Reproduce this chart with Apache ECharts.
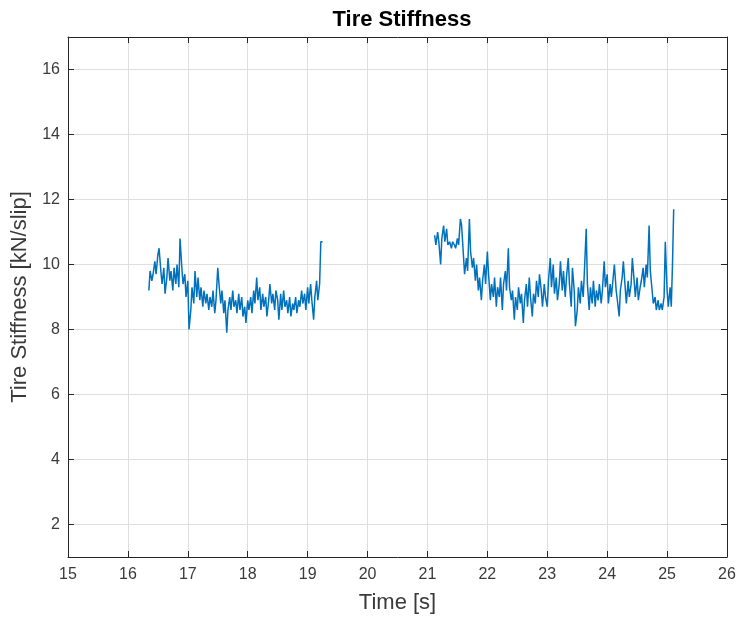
<!DOCTYPE html>
<html>
<head>
<meta charset="utf-8">
<script src="https://cdn.jsdelivr.net/npm/echarts@6/dist/echarts.min.js"></script>
<style>html,body{margin:0;padding:0;background:#fff;}#c{width:741px;height:623px;}</style>
</head>
<body>
<div id="c"></div>
<script>
const titleText = 'Tire Stiffness';
const xName = 'Time [s]';
const yName = 'Tire Stiffness [kN/slip]';
const xTicks = [15,16,17,18,19,20,21,22,23,24,25,26];
const yTicks = [2,4,6,8,10,12,14,16];

const segment1 = [
[16.35,9.2],[16.37,9.8],[16.40,9.5],[16.42,9.7],[16.45,10.1],[16.47,9.7],[16.50,10.3],[16.52,10.5],
[16.55,9.8],[16.57,9.4],[16.60,9.9],[16.62,9.1],[16.65,9.6],[16.67,10.2],[16.70,9.5],[16.72,9.8],
[16.75,9.2],[16.77,9.9],[16.80,9.4],[16.82,10.0],[16.85,9.3],[16.87,10.8],[16.90,9.9],[16.92,9.4],
[16.95,9.7],[16.97,9.0],[17.00,9.5],[17.02,8.0],[17.05,8.6],[17.07,9.3],[17.10,8.8],[17.12,9.8],
[17.15,9.0],[17.17,9.6],[17.20,8.9],[17.22,9.3],[17.25,8.7],[17.27,9.2],[17.30,8.8],[17.32,9.1],
[17.35,8.6],[17.37,9.0],[17.40,8.7],[17.42,9.2],[17.45,8.5],[17.47,8.9],[17.50,9.9],[17.52,9.4],
[17.55,8.8],[17.57,9.2],[17.60,8.5],[17.62,8.9],[17.65,7.9],[17.67,8.6],[17.70,9.0],[17.72,8.6],
[17.75,9.2],[17.77,8.7],[17.80,8.9],[17.82,8.5],[17.85,9.1],[17.87,8.6],[17.90,9.0],[17.92,8.4],
[17.95,8.7],[17.97,8.2],[18.00,8.9],[18.02,8.6],[18.05,9.0],[18.07,8.5],[18.10,9.2],[18.12,8.8],
[18.15,9.6],[18.17,8.9],[18.20,9.3],[18.22,8.6],[18.25,9.1],[18.27,8.7],[18.30,9.0],[18.32,8.4],
[18.35,8.9],[18.37,9.4],[18.40,8.8],[18.42,9.1],[18.45,8.6],[18.47,9.2],[18.50,8.9],[18.52,8.3],
[18.55,9.1],[18.57,8.6],[18.60,9.2],[18.62,8.7],[18.65,8.9],[18.67,8.5],[18.70,9.0],[18.72,8.4],
[18.75,8.8],[18.77,8.6],[18.80,9.0],[18.82,8.5],[18.85,8.9],[18.87,8.7],[18.90,9.2],[18.92,8.8],
[18.95,9.1],[18.97,8.6],[19.00,9.3],[19.02,8.8],[19.05,9.4],[19.07,8.9],[19.10,8.3],[19.12,9.0],
[19.15,9.5],[19.17,8.9],[19.20,9.4],[19.22,10.7],[19.25,10.7]
];

const segment2 = [
[21.12,10.9],[21.14,10.6],[21.17,11.0],[21.19,10.7],[21.22,10.0],[21.24,10.8],[21.27,11.2],[21.29,10.7],
[21.32,11.1],[21.34,10.6],[21.37,10.7],[21.40,10.5],[21.42,10.7],[21.45,10.6],[21.47,10.5],[21.50,10.8],
[21.52,10.6],[21.55,11.4],[21.57,11.2],[21.60,10.3],[21.62,9.7],[21.65,10.2],[21.67,9.8],[21.70,11.4],
[21.72,10.4],[21.75,9.9],[21.77,10.2],[21.80,9.5],[21.82,10.0],[21.85,9.2],[21.87,9.6],[21.90,8.9],
[21.92,9.5],[21.95,10.0],[21.97,9.4],[22.00,10.4],[22.02,9.7],[22.05,8.9],[22.07,9.4],[22.10,9.0],
[22.12,9.6],[22.15,8.7],[22.17,9.3],[22.20,9.0],[22.22,9.6],[22.25,8.6],[22.27,9.4],[22.30,9.8],
[22.32,9.2],[22.35,10.5],[22.37,9.3],[22.40,8.9],[22.42,9.2],[22.45,8.3],[22.47,9.0],[22.50,8.6],
[22.52,9.3],[22.55,8.8],[22.57,9.1],[22.60,8.2],[22.62,8.9],[22.65,9.4],[22.67,8.7],[22.70,9.6],
[22.72,9.0],[22.75,8.4],[22.77,9.1],[22.80,8.8],[22.82,9.5],[22.85,9.0],[22.87,9.7],[22.90,9.2],
[22.92,8.7],[22.95,9.4],[22.97,9.0],[23.00,8.7],[23.02,9.5],[23.05,10.2],[23.07,9.3],[23.10,10.0],
[23.12,9.1],[23.15,9.6],[23.17,8.9],[23.20,9.4],[23.22,10.1],[23.25,9.2],[23.27,9.8],[23.30,9.0],
[23.32,9.6],[23.35,10.2],[23.37,9.4],[23.40,8.7],[23.42,9.9],[23.45,9.2],[23.47,8.1],[23.50,8.6],
[23.52,9.3],[23.55,8.8],[23.57,9.5],[23.60,9.0],[23.62,9.8],[23.65,11.1],[23.67,9.4],[23.70,8.6],
[23.72,9.3],[23.75,8.8],[23.77,9.5],[23.80,8.7],[23.82,9.2],[23.85,8.9],[23.87,9.4],[23.90,8.8],
[23.92,9.2],[23.95,10.1],[23.97,9.3],[24.00,9.7],[24.02,8.8],[24.05,9.4],[24.07,9.0],[24.10,9.6],
[24.12,10.0],[24.15,9.2],[24.17,8.9],[24.20,8.4],[24.22,9.2],[24.25,9.6],[24.27,10.1],[24.30,9.3],
[24.32,8.8],[24.35,9.5],[24.37,9.0],[24.40,9.4],[24.42,10.2],[24.45,9.5],[24.47,9.0],[24.50,9.6],
[24.52,8.9],[24.55,9.3],[24.57,9.5],[24.60,9.9],[24.62,9.3],[24.65,10.0],[24.67,9.6],[24.70,11.2],
[24.72,9.8],[24.75,9.2],[24.77,8.8],[24.80,9.0],[24.82,8.6],[24.85,8.9],[24.87,8.6],[24.90,8.8],
[24.92,8.6],[24.95,9.0],[24.97,10.7],[25.00,9.2],[25.02,8.7],[25.05,9.3],[25.07,8.7],[25.09,10.0],
[25.11,11.7]
];

const lineColor = '#0072BD';
const axisColor = '#262626';
const labelColor = '#3a3a3a';
const gridColor = '#dfdfdf';
const font = 'Liberation Sans, Arial, Helvetica, sans-serif';

const chart = echarts.init(document.getElementById('c'), null, {renderer: 'canvas'});

function xAxisCfg(pos, show) {
  return {
    type: 'value', position: pos, min: 15, max: 26, interval: 1,
    name: show ? xName : '', nameLocation: 'middle', nameGap: 35,
    nameTextStyle: {color: labelColor, fontSize: 22, fontFamily: font},
    axisLine: {show: true, onZero: false, lineStyle: {color: axisColor, width: 1}},
    axisTick: {show: true, inside: true, length: 6, lineStyle: {color: axisColor}},
    axisLabel: {show: show, color: labelColor, fontSize: 16, fontFamily: font, margin: 10,
      formatter: v => xTicks.includes(v) ? String(v) : ''},
    splitLine: {show: show, lineStyle: {color: gridColor, width: 1}}
  };
}
function yAxisCfg(pos, show) {
  return {
    type: 'value', position: pos, min: 1, max: 17,
    name: show ? yName : '', nameLocation: 'middle', nameGap: 35,
    nameTextStyle: {color: labelColor, fontSize: 22, fontFamily: font},
    axisLine: {show: true, onZero: false, lineStyle: {color: axisColor, width: 1}},
    axisTick: {show: true, inside: true, length: 6, customValues: yTicks, lineStyle: {color: axisColor}},
    axisLabel: {show: show, color: labelColor, fontSize: 16, fontFamily: font, margin: 8, customValues: yTicks},
    splitLine: {show: show, lineStyle: {color: gridColor, width: 1}}
  };
}

chart.setOption({
  backgroundColor: '#ffffff',
  animation: false,
  title: {
    text: titleText, left: 397, top: 4, textAlign: 'center',
    textStyle: {color: '#000', fontSize: 22, fontWeight: 'bold', fontFamily: font}
  },
  grid: {left: 68, right: 14, top: 37, bottom: 66, containLabel: false},
  xAxis: [xAxisCfg('bottom', true), xAxisCfg('top', false)],
  yAxis: [yAxisCfg('left', true), yAxisCfg('right', false)],
  series: [
    {type: 'line', data: segment1, xAxisIndex: 0, yAxisIndex: 0, step: 'end', showSymbol: false,
     lineStyle: {color: lineColor, width: 1.5}, itemStyle: {color: lineColor}},
    {type: 'line', data: segment2, xAxisIndex: 0, yAxisIndex: 0, step: 'end', showSymbol: false,
     lineStyle: {color: lineColor, width: 1.5}, itemStyle: {color: lineColor}}
  ]
});
</script>
</body>
</html>
